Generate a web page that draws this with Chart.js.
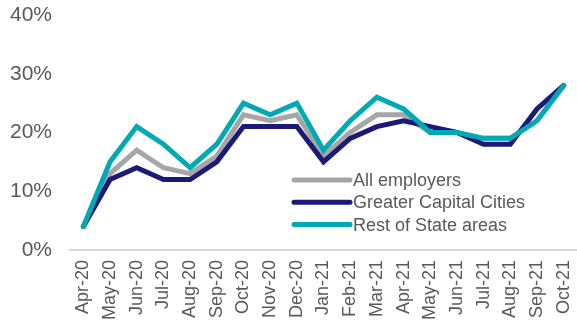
<!DOCTYPE html>
<html>
<head>
<meta charset="utf-8">
<script src="https://cdn.jsdelivr.net/npm/chart.js@4/dist/chart.umd.min.js"></script>
<style>
  html, body { margin: 0; padding: 0; background: #fff; }
  #wrap { width: 577px; height: 321px; }
</style>
</head>
<body>
<div id="wrap"><canvas id="grafica"></canvas></div>
<script>
const meses = ['Apr-20', 'May-20', 'Jun-20', 'Jul-20', 'Aug-20', 'Sep-20', 'Oct-20', 'Nov-20', 'Dec-20',
    'Jan-21', 'Feb-21', 'Mar-21', 'Apr-21', 'May-21', 'Jun-21', 'Jul-21', 'Aug-21', 'Sep-21', 'Oct-21'];
const allEmployers = [4, 13, 17, 14, 13, 16, 23, 22, 23, 16, 20, 23, 23, 20, 20, 19, 19, 22, 28];
const capitalCities = [4, 12, 14, 12, 12, 15, 21, 21, 21, 15, 19, 21, 22, 21, 20, 18, 18, 24, 28];
const restOfState = [4, 15, 21, 18, 14, 18, 25, 23, 25, 17, 22, 26, 24, 20, 20, 19, 19, 22, 28];
const yTicks = [0, 10, 20, 30, 40];

const textColor = '#595959';

// legend drawn inside the plot area, lower right
const insideLegend = {
    id: 'insideLegend',
    afterDraw(chart) {
        const ctx = chart.ctx;
        const area = chart.chartArea;
        const x0 = area.left + 224;
        const y0 = area.top + 165;
        const rowH = 22.3;
        const items = [0, 1, 2].map(i => chart.data.datasets[i]);
        ctx.save();
        ctx.font = '18px "Liberation Sans", Arial, sans-serif';
        ctx.textBaseline = 'middle';
        items.forEach((ds, i) => {
            const y = y0 + i * rowH;
            ctx.strokeStyle = ds.borderColor;
            ctx.lineWidth = 5;
            ctx.lineCap = 'round';
            ctx.beginPath();
            ctx.moveTo(x0, y);
            ctx.lineTo(x0 + 56, y);
            ctx.stroke();
            ctx.fillStyle = textColor;
            ctx.fillText(ds.label, x0 + 59, y + 1);
        });
        ctx.restore();
    }
};

// drop the label overhang so the plot can reach the canvas edges
function noOverhang(scale) {
    scale.paddingTop = 0;
    scale.paddingBottom = 0;
    scale.paddingLeft = 0;
    scale.paddingRight = 0;
}

const ctx = document.getElementById('grafica').getContext('2d');
const grafica = new Chart(ctx, {
    type: 'line',
    data: {
        labels: meses,
        datasets: [
            { label: 'All employers', data: allEmployers, borderColor: '#A6A6A6', order: 3 },
            { label: 'Greater Capital Cities', data: capitalCities, borderColor: '#1C1A78', order: 2 },
            { label: 'Rest of State areas', data: restOfState, borderColor: '#00A9B4', order: 1 }
        ]
    },
    options: {
        responsive: true,
        maintainAspectRatio: false,
        animation: false,
        layout: { padding: { left: -8, right: -7, top: 15, bottom: -9 } },
        elements: {
            line: { borderWidth: 5, tension: 0, borderJoinStyle: 'miter', borderCapStyle: 'round' },
            point: { radius: 0, hoverRadius: 0 }
        },
        plugins: {
            legend: { display: false },
            tooltip: { enabled: false }
        },
        scales: {
            x: {
                offset: true,
                afterFit: noOverhang,
                grid: { display: false, drawTicks: false },
                border: { display: true, color: '#D9D9D9', width: 2 },
                ticks: {
                    color: textColor,
                    font: { family: '"Liberation Sans", Arial, sans-serif', size: 18 },
                    maxRotation: 90,
                    minRotation: 90,
                    autoSkip: false,
                    padding: 10
                }
            },
            y: {
                min: 0,
                max: 40,
                afterFit: noOverhang,
                grid: { display: false, drawTicks: false },
                border: { display: false },
                afterBuildTicks: axis => { axis.ticks = yTicks.map(v => ({ value: v })); },
                ticks: {
                    color: textColor,
                    font: { family: '"Liberation Sans", Arial, sans-serif', size: 21 },
                    padding: 18,
                    callback: v => v + '%'
                }
            }
        }
    },
    plugins: [insideLegend]
});
</script>
</body>
</html>
